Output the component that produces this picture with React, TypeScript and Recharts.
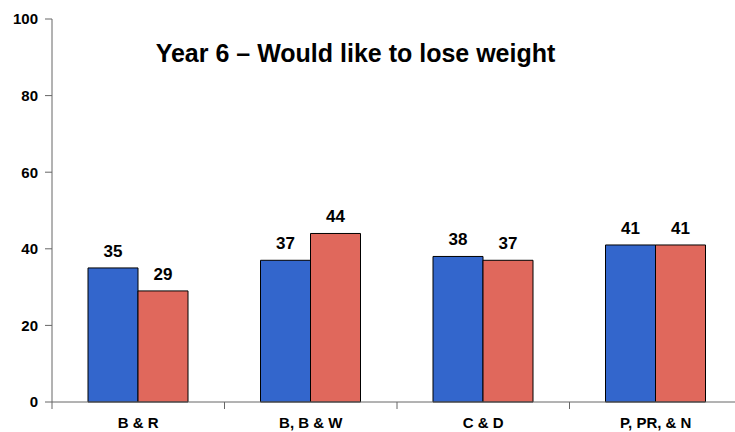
import { BarChart, Bar, XAxis, YAxis, LabelList } from "recharts";

// Year 6 pupils who would like to lose weight (%), by area
const areas = ["B & R", "B, B & W", "C & D", "P, PR, & N"];
const boys = [35, 37, 38, 41];
const girls = [29, 44, 37, 41];
const yTicks = [0, 20, 40, 60, 80, 100];

const data = areas.map((area, i) => ({ area, boys: boys[i], girls: girls[i] }));

const font = "'Liberation Sans', Arial, sans-serif";

// Excel-style category axis: tick marks sit between the categories
function AreaTick(props: any) {
  const { x, y, payload } = props;
  const half = payload.offset || 0;
  return (
    <g>
      <line x1={x - half} x2={x - half} y1={y - 15} y2={y - 8} stroke="#666" />
      <text
        x={x}
        y={y}
        dy="0.71em"
        textAnchor="middle"
        fontFamily={font}
        fontWeight="bold"
        fontSize={15}
        fill="#000"
      >
        {payload.value}
      </text>
    </g>
  );
}

export default function App() {
  return (
    <div
      style={{
        position: "absolute",
        left: 0,
        top: 0,
        width: 735,
        height: 432,
        overflow: "hidden",
        background: "#fff",
      }}
    >
      <BarChart
        width={750}
        height={432}
        data={data}
        margin={{ top: 19, right: 8, left: 0, bottom: 0 }}
        barGap={0}
      >
        <XAxis
          dataKey="area"
          height={30}
          stroke="#666"
          tickLine={false}
          tickSize={0}
          tickMargin={15}
          interval={0}
          tick={<AreaTick />}
        />
        <YAxis
          width={52}
          domain={[0, 100]}
          ticks={yTicks}
          stroke="#666"
          tickSize={7}
          tickMargin={7}
          tick={{ fill: "#000", fontFamily: font, fontWeight: "bold", fontSize: 15 }}
        />
        <Bar dataKey="boys" fill="#3366CC" stroke="#000" strokeWidth={1} barSize={50} isAnimationActive={false}>
          <LabelList
            dataKey="boys"
            position="top"
            offset={11}
            fill="#000"
            fontFamily={font}
            fontWeight="bold"
            fontSize={17}
          />
        </Bar>
        <Bar dataKey="girls" fill="#E0685C" stroke="#000" strokeWidth={1} barSize={50} isAnimationActive={false}>
          <LabelList
            dataKey="girls"
            position="top"
            offset={11}
            fill="#000"
            fontFamily={font}
            fontWeight="bold"
            fontSize={17}
          />
        </Bar>
      </BarChart>
      <div
        style={{
          position: "absolute",
          left: 0,
          width: 711,
          top: 38,
          textAlign: "center",
          fontFamily: font,
          fontWeight: "bold",
          fontSize: 25,
          lineHeight: "30px",
          color: "#000",
        }}
      >
        Year 6 – Would like to lose weight
      </div>
    </div>
  );
}
